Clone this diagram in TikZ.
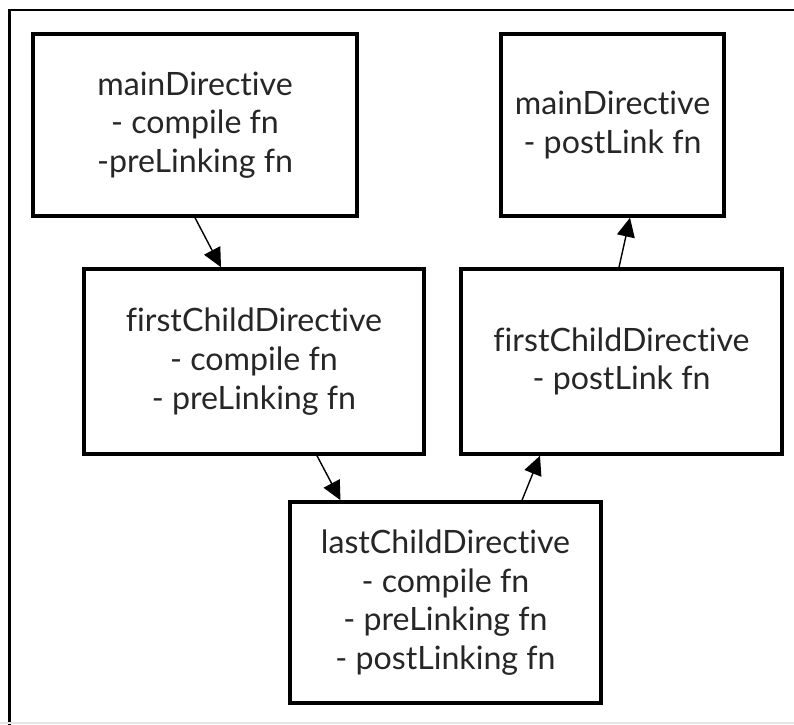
\documentclass[tikz,border=0pt]{standalone}
\usepackage{fontspec}
\setmainfont[Ligatures=NoCommon]{Lato}
\usepackage{xcolor}
\usetikzlibrary{arrows.meta}

\tikzset{
	box/.style={draw, line width=2pt, align=center, inner sep=0pt, text=black!85,
		font=\fontsize{18.3}{22}\selectfont},
	link/.style={line width=0.8pt, -{Triangle[length=0.38cm,width=0.36cm]}}
}

\begin{document}
\begin{tikzpicture}
			\useasboundingbox (0,0) rectangle (15.88,-14.5);
			% \draw [help lines] (0,-15) grid (16,0);
			% frame
			
			\draw[line width=1.7pt] (0.19,-14.5)--(0.19,-0.2)--(15.88,-0.2);
			\draw[black!10, line width=0.6pt] (0,-14.46)--(15.88,-14.46);
			
			% node point
			
			\node[box, minimum width=6.48cm, minimum height=3.64cm] (mainCompile) at (3.9,-2.5)
			{mainDirective\\- compile fn\\-preLinking fn};
			\node[box, minimum width=4.46cm, minimum height=3.64cm] (mainPost) at (12.25,-2.5)
			{mainDirective\\- postLink fn};
			\node[box, minimum width=6.8cm, minimum height=3.7cm] (firstCompile) at (5.08,-7.23)
			{firstChildDirective\\- compile fn\\- preLinking fn};
			\node[box, minimum width=6.42cm, minimum height=3.7cm] (firstPost) at (12.43,-7.23)
			{firstChildDirective\\- postLink fn};
			\node[box, minimum width=6.22cm, minimum height=4.02cm] (lastChild) at (8.91,-12.05)
			{lastChildDirective\\- compile fn\\- preLinking fn\\- postLinking fn};
			
			% arrows
			
			\draw[link] ([xshift=0cm]mainCompile.south) -- ([xshift=-0.66cm]firstCompile.north);
			\draw[link] ([xshift=1.26cm]firstCompile.south) -- ([xshift=-2.1cm]lastChild.north);
			\draw[link] ([xshift=1.53cm]lastChild.north) -- ([xshift=-1.63cm]firstPost.south);
			\draw[link] ([xshift=-0.05cm]firstPost.north) -- ([xshift=0.35cm]mainPost.south);
			
		\end{tikzpicture}
\end{document}
